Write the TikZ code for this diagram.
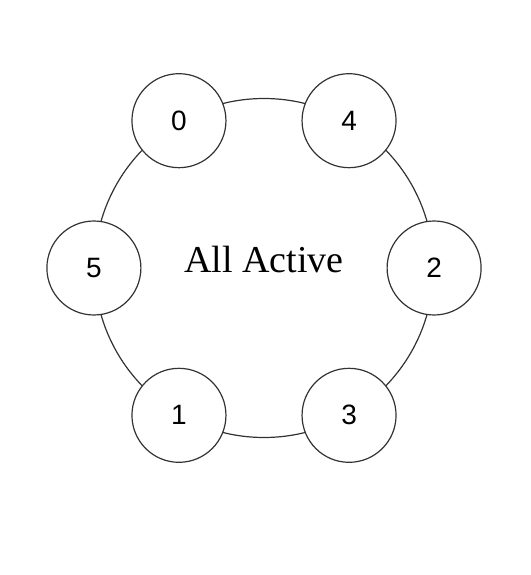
\documentclass[tikz,border=0pt]{standalone}
\usepackage{fontspec}
\newfontfamily\digitfont{Liberation Sans}
\newfontfamily\titlefont{Liberation Serif}
\usepackage{tikz}
\usetikzlibrary{positioning}
\definecolor{edgegray}{HTML}{333333}

\begin{document}
\begin{tikzpicture}[
    x=1pt, y=1pt,
    ring/.style={
        draw=edgegray,
        circle,
        line width=1.2pt,
        inner sep=0pt,
        minimum size=339pt
    },
    member/.style={
        draw=edgegray,
        circle,
        line width=1.2pt,
        fill=white,
        inner sep=0pt,
        minimum size=94pt,
        font=\digitfont\fontsize{28}{30}\selectfont
    },
    title/.style={
        font=\titlefont\fontsize{38}{42}\selectfont
    }
]
\useasboundingbox (0,0) rectangle (530,-575);

% ---- Ring ----
\node[ring] (ring) at (264,-268) {};
\node[title] (state) at ([yshift=9pt]ring.center) {All Active};

% ---- Members on the ring ----
\node[member] (n0) at (ring.120) {0};
\node[member] (n4) at (ring.60) {4};
\node[member] (n2) at (ring.0) {2};
\node[member] (n3) at (ring.-60) {3};
\node[member] (n1) at (ring.-120) {1};
\node[member] (n5) at (ring.180) {5};

\end{tikzpicture}
\end{document}
